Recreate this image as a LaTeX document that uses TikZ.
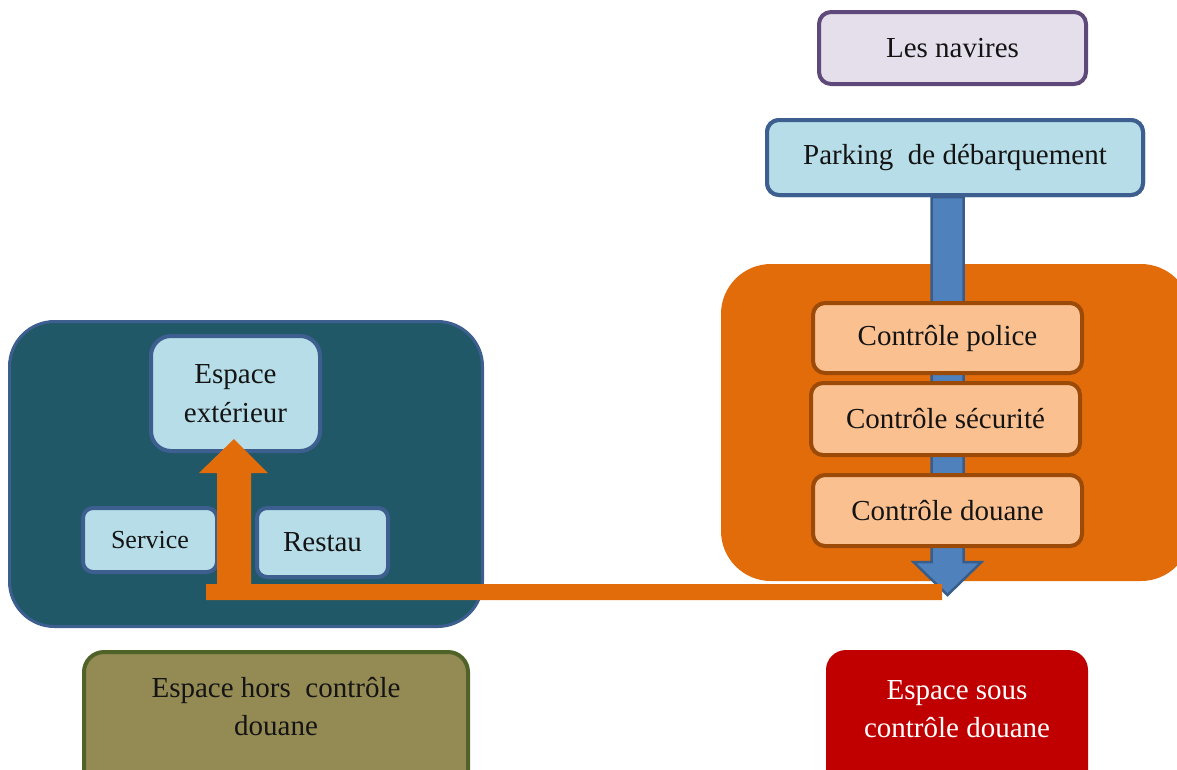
\documentclass[tikz,border=0pt]{standalone}
\usepackage{fontspec}
\setmainfont{Liberation Serif}
\usetikzlibrary{calc}

\definecolor{navFill}{HTML}{E5DFEC}
\definecolor{navLine}{HTML}{5F497A}
\definecolor{skyFill}{HTML}{B7DEE8}
\definecolor{skyLine}{HTML}{3C5F8F}
\definecolor{zoneOrange}{HTML}{E36C0A}
\definecolor{ctrlFill}{HTML}{FAC090}
\definecolor{ctrlLine}{HTML}{9C4A08}
\definecolor{flowBlue}{HTML}{4F81BD}
\definecolor{flowBlueLine}{HTML}{385D8A}
\definecolor{zoneTeal}{HTML}{215868}
\definecolor{oliveFill}{HTML}{948A54}
\definecolor{oliveLine}{HTML}{4F6228}
\definecolor{zoneRed}{HTML}{C00000}

\begin{document}
\begin{tikzpicture}[x=1pt,y=-1pt,
  txt/.style={font=\fontsize{29}{38.5}\selectfont, align=center, text=black!92},
  card/.style={rectangle, rounded corners=#1, inner sep=0pt, txt},
  card/.default=12pt,
  navbox/.style={card, fill=navFill, draw=navLine, line width=4pt},
  skybox/.style={card, fill=skyFill, draw=skyLine, line width=4pt},
  ctrlbox/.style={card, fill=ctrlFill, draw=ctrlLine, line width=4pt},
  zone/.style={rectangle, rounded corners=#1, inner sep=0pt},
]
\useasboundingbox (0,0) rectangle (1177,769);
\clip (0,0) rectangle (1177,769);

% ---- controlled zone (right) ----
\node[zone=50pt, fill=zoneOrange, minimum width=470pt, minimum height=317pt]
  (ctrlzone) at (956,422.5) {};

% vertical flow arrow from the parking through the checks
\coordinate (btip) at (947.5,595);
\node[navbox, minimum width=267pt, minimum height=72pt] (nav) at (952.5,48) {Les navires};
\node[skybox, minimum width=376pt, minimum height=75pt] (park) at (955,157.5) {};
\coordinate (btop) at (park.south -| btip);
\path[fill=flowBlue, draw=flowBlueLine, line width=2.5pt, line join=miter]
  ($(btop)+(-16,0)$) -- ($(btip)+(-16,-33)$) -- ($(btip)+(-34,-33)$) -- (btip)
  -- ($(btip)+(34,-33)$) -- ($(btip)+(16,-33)$) -- ($(btop)+(16,0)$) -- cycle;
\node[skybox, minimum width=376pt, minimum height=75pt] at (park) {Parking~ de débarquement};

\node[ctrlbox, minimum width=269pt, minimum height=70pt] (pol) at (947.5,338) {Contrôle police};
\node[ctrlbox, minimum width=269pt, minimum height=72pt] (sec) at (945.5,419) {Contrôle sécurité};
\node[ctrlbox, minimum width=269pt, minimum height=71pt] (dou) at (947.5,510.5) {Contrôle douane};

% ---- free zone (left) ----
\node[zone=45pt, fill=zoneTeal, draw=skyLine, line width=3pt, minimum width=473pt, minimum height=305pt]
  (freezone) at (246,474) {};
\node[skybox, card=20pt, minimum width=169pt, minimum height=115pt] (ext) at (235.5,393.5) {Espace\\extérieur};
\node[skybox, card=10pt, minimum width=134pt, minimum height=64pt, font=\fontsize{26}{30}\selectfont] (serv) at (150,540) {Service};
\node[skybox, card=10pt, minimum width=131pt, minimum height=69pt] (rest) at (322.5,542.5) {Restau};

% return flow arrow back to the outside space
\coordinate (otip) at ($(ext.south)+(-1.5,-14)$);
\fill[zoneOrange]
  (otip) -- ($(otip)+(34,34)$) -- ($(otip)+(17,34)$) -- ($(otip)+(17,145)$)
  -- ($(btip)+(-5.5,-11)$) -- ($(btip)+(-5.5,5)$) -- ($(otip)+(-28,161)$)
  -- ($(otip)+(-28,145)$) -- ($(otip)+(-17,145)$) -- ($(otip)+(-17,34)$)
  -- ($(otip)+(-35,34)$) -- cycle;

% ---- legend ----
\node[zone=20pt, fill=oliveFill, draw=oliveLine, line width=4pt, minimum width=384pt, minimum height=160pt]
  (horsbox) at (276,732) {};
\node[txt] (hors) at (276,706.5) {Espace hors~ contrôle\\douane};
\node[zone=20pt, fill=zoneRed, minimum width=262pt, minimum height=160pt]
  (sousbox) at (957,730) {};
\node[txt, text=white] (sous) at (957,709) {Espace sous\\contrôle douane};
\end{tikzpicture}
\end{document}
